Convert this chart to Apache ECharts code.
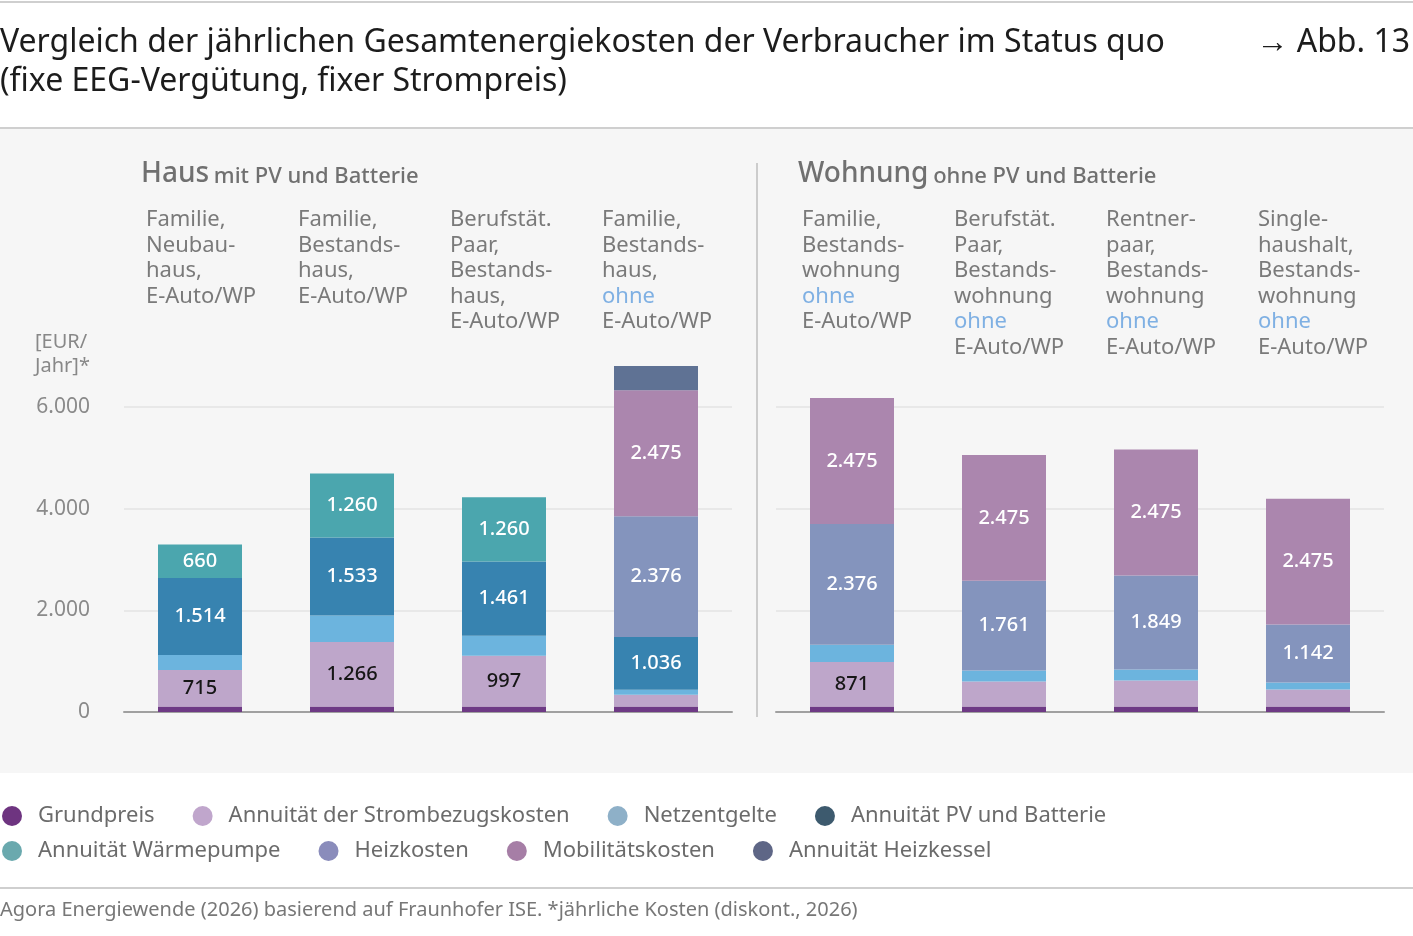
<!DOCTYPE html>
<html>
<head>
<meta charset="utf-8">
<title>Abb. 13</title>
<script src="https://cdn.jsdelivr.net/npm/echarts@6/dist/echarts.min.js"></script>
<style>
  html, body { margin: 0; padding: 0; background: #fff; }
  #chart { width: 1413px; height: 936px; }
</style>
</head>
<body>
<div id="chart"></div>
<script>
// categories (one label per bar, "ohne" is drawn in blue)
const categoriesHaus = [
	'Familie,\nNeubau-\nhaus,\nE-Auto/WP',
	'Familie,\nBestands-\nhaus,\nE-Auto/WP',
	'Berufstät.\nPaar,\nBestands-\nhaus,\nE-Auto/WP',
	'Familie,\nBestands-\nhaus,\nohne\nE-Auto/WP'
];
const categoriesWohnung = [
	'Familie,\nBestands-\nwohnung\nohne\nE-Auto/WP',
	'Berufstät.\nPaar,\nBestands-\nwohnung\nohne\nE-Auto/WP',
	'Rentner-\npaar,\nBestands-\nwohnung\nohne\nE-Auto/WP',
	'Single-\nhaushalt,\nBestands-\nwohnung\nohne\nE-Auto/WP'
];

const seriesNames = [
	'Grundpreis',
	'Annuität der Strombezugskosten',
	'Netzentgelte',
	'Annuität PV und Batterie',
	'Annuität Wärmepumpe',
	'Heizkosten',
	'Mobilitätskosten',
	'Annuität Heizkessel'
];

// values in EUR/Jahr, stacked bottom -> top
const grundpreisHaus = [110, 110, 110, 110];
const strombezugHaus = [715, 1266, 997, 230];
const netzentgelteHaus = [295, 520, 393, 98];
const pvBatterieHaus = [1514, 1533, 1461, 1036];
const waermepumpeHaus = [660, 1260, 1260, 0];
const heizkostenHaus = [0, 0, 0, 2376];
const mobilitaetHaus = [0, 0, 0, 2475];
const heizkesselHaus = [0, 0, 0, 478];

const grundpreisWohnung = [110, 110, 110, 110];
const strombezugWohnung = [871, 492, 510, 330];
const netzentgelteWohnung = [340, 216, 216, 138];
const pvBatterieWohnung = [0, 0, 0, 0];
const waermepumpeWohnung = [0, 0, 0, 0];
const heizkostenWohnung = [2376, 1761, 1849, 1142];
const mobilitaetWohnung = [2475, 2475, 2475, 2475];
const heizkesselWohnung = [0, 0, 0, 0];

const yMin = 0;
const yMax = 7000;
const yInterval = 2000;

const barColors = ['#6e3a85', '#bea6ca', '#6cb4de', '#3783b0', '#4ba6ae', '#8494bd', '#ab86ae', '#5f7294'];
const legendColors = ['#6e3480', '#c0a6cc', '#8eb0c8', '#3d5a6e', '#6aa9ae', '#8a8cbb', '#a67ea6', '#5e6686'];
const labelColors = ['#fff', '#161616', '#fff', '#fff', '#fff', '#fff', '#fff', '#fff'];

const hausData = [grundpreisHaus, strombezugHaus, netzentgelteHaus, pvBatterieHaus, waermepumpeHaus, heizkostenHaus, mobilitaetHaus, heizkesselHaus];
const wohnungData = [grundpreisWohnung, strombezugWohnung, netzentgelteWohnung, pvBatterieWohnung, waermepumpeWohnung, heizkostenWohnung, mobilitaetWohnung, heizkesselWohnung];

const FONT = '"Noto Sans", Roboto, sans-serif';

function fmt(v) {
	return String(v).replace(/\B(?=(\d{3})+(?!\d))/g, '.');
}

function catLabel(text) {
	return text.split('\n').map((l) => (l === 'ohne' ? '{o|ohne}' : '{n|' + l + '}')).join('\n');
}

// the label box is centred on the bar, text is left aligned inside it
function catLabelStyle(boxWidth) {
	return {
		show: true,
		interval: 0,
		margin: 149,
		verticalAlign: 'top',
		align: 'center',
		width: boxWidth,
		formatter: catLabel,
		rich: {
			n: { fontFamily: FONT, fontSize: 22, lineHeight: 25.5, color: '#7a7a7a', align: 'left' },
			o: { fontFamily: FONT, fontSize: 22, lineHeight: 25.5, color: '#7fb0e3', align: 'left' }
		}
	};
}

function makeSeries(dataSets, axisIndex) {
	return dataSets.map((values, i) => ({
		name: seriesNames[i],
		type: 'bar',
		stack: 'total' + axisIndex,
		xAxisIndex: axisIndex * 2,
		yAxisIndex: axisIndex,
		barWidth: 84,
		itemStyle: { color: barColors[i] },
		label: {
			show: true,
			position: 'inside',
			fontFamily: FONT,
			fontSize: 20,
			fontWeight: 500,
			color: labelColors[i],
			formatter: (p) => (p.value >= 600 ? fmt(p.value) : '')
		},
		emphasis: { disabled: true },
		data: values
	}));
}

const chart = echarts.init(document.getElementById('chart'), null, { renderer: 'canvas' });

const gridTop = 356;
const gridHeight = 356;

const headerRich = {
	b: { fontFamily: FONT, fontSize: 28, fontWeight: 500, color: '#707070', verticalAlign: 'bottom' },
	s: { fontFamily: FONT, fontSize: 22, fontWeight: 500, color: '#707070', verticalAlign: 'bottom' }
};

chart.setOption({
	backgroundColor: '#ffffff',
	animation: false,
	textStyle: { fontFamily: FONT },
	graphic: [
		{ type: 'rect', z: -10, shape: { x: 0, y: 129, width: 1413, height: 644 }, style: { fill: '#f6f6f6' } },
		{ type: 'line', shape: { x1: 0, y1: 2, x2: 1413, y2: 2 }, style: { stroke: '#cfcfcf', lineWidth: 2 } },
		{ type: 'line', shape: { x1: 0, y1: 128, x2: 1413, y2: 128 }, style: { stroke: '#cfcfcf', lineWidth: 2 } },
		{ type: 'line', shape: { x1: 757, y1: 163, x2: 757, y2: 717 }, style: { stroke: '#cccccc', lineWidth: 2 } },
		{ type: 'line', shape: { x1: 0, y1: 888, x2: 1413, y2: 888 }, style: { stroke: '#cfcfcf', lineWidth: 2 } }
	],
	title: [
		{
			text: 'Vergleich der jährlichen Gesamtenergiekosten der Verbraucher im Status quo\n(fixe EEG-Vergütung, fixer Strompreis)',
			left: 0, top: 23, padding: 0,
			textStyle: { fontFamily: FONT, fontSize: 32, lineHeight: 39, fontWeight: 'normal', color: '#1c1c1c' }
		},
		{
			text: '→ Abb. 13',
			right: 3, top: 23, padding: 0,
			textStyle: { fontFamily: FONT, fontSize: 32, lineHeight: 39, fontWeight: 'normal', color: '#1c1c1c' }
		},
		{
			text: '{b|Haus} {s|mit PV und Batterie}',
			left: 141, top: 160, padding: 0,
			textStyle: { rich: headerRich }
		},
		{
			text: '{b|Wohnung} {s|ohne PV und Batterie}',
			left: 798, top: 160, padding: 0,
			textStyle: { rich: headerRich }
		},
		{
			text: '[EUR/\nJahr]*',
			left: 35, top: 330, padding: 0,
			textStyle: { fontFamily: FONT, fontSize: 20, lineHeight: 24, fontWeight: 'normal', color: '#888888' }
		},
		{
			text: 'Agora Energiewende (2026) basierend auf Fraunhofer ISE. *jährliche Kosten (diskont., 2026)',
			left: 0, top: 900, padding: 0,
			textStyle: { fontFamily: FONT, fontSize: 20, fontWeight: 'normal', color: '#777777' }
		}
	],
	legend: [
		{
			left: 2, top: 805, padding: 0,
			icon: 'circle', itemWidth: 20, itemHeight: 20, itemGap: 38,
			selectedMode: false,
			textStyle: { fontFamily: FONT, fontSize: 22, color: '#6b6b6b', padding: [0, 0, 0, 11] },
			data: seriesNames.slice(0, 4).map((n, i) => ({ name: n, itemStyle: { color: legendColors[i] } }))
		},
		{
			left: 2, top: 840, padding: 0,
			icon: 'circle', itemWidth: 20, itemHeight: 20, itemGap: 38,
			selectedMode: false,
			textStyle: { fontFamily: FONT, fontSize: 22, color: '#6b6b6b', padding: [0, 0, 0, 11] },
			data: seriesNames.slice(4).map((n, i) => ({ name: n, itemStyle: { color: legendColors[i + 4] } }))
		}
	],
	grid: [
		{ left: 124, top: gridTop, width: 608, height: gridHeight },
		{ left: 776, top: gridTop, width: 608, height: gridHeight }
	],
	xAxis: [
		{
			type: 'category', gridIndex: 0, position: 'bottom', data: categoriesHaus,
			axisLine: { lineStyle: { color: '#a0a0a0', width: 2 } }, axisTick: { show: false }, axisLabel: { show: false }
		},
		{
			type: 'category', gridIndex: 0, position: 'top', data: categoriesHaus,
			axisLine: { show: false }, axisTick: { show: false }, axisLabel: catLabelStyle(108)
		},
		{
			type: 'category', gridIndex: 1, position: 'bottom', data: categoriesWohnung,
			axisLine: { lineStyle: { color: '#a0a0a0', width: 2 } }, axisTick: { show: false }, axisLabel: { show: false }
		},
		{
			type: 'category', gridIndex: 1, position: 'top', data: categoriesWohnung,
			axisLine: { show: false }, axisTick: { show: false }, axisLabel: catLabelStyle(100)
		}
	],
	yAxis: [
		{
			type: 'value', gridIndex: 0, min: yMin, max: yMax, interval: yInterval,
			axisLine: { show: false }, axisTick: { show: false },
			splitLine: { showMaxLine: false, lineStyle: { color: '#e8e8e8', width: 2 } },
			axisLabel: {
				margin: 34, fontFamily: FONT, fontSize: 21, color: '#8a8a8a', showMaxLabel: false,
				formatter: (v) => fmt(v)
			}
		},
		{
			type: 'value', gridIndex: 1, min: yMin, max: yMax, interval: yInterval,
			axisLine: { show: false }, axisTick: { show: false },
			splitLine: { showMaxLine: false, lineStyle: { color: '#e8e8e8', width: 2 } },
			axisLabel: { show: false }
		}
	],
	series: makeSeries(hausData, 0).concat(makeSeries(wohnungData, 1))
});
</script>
</body>
</html>
